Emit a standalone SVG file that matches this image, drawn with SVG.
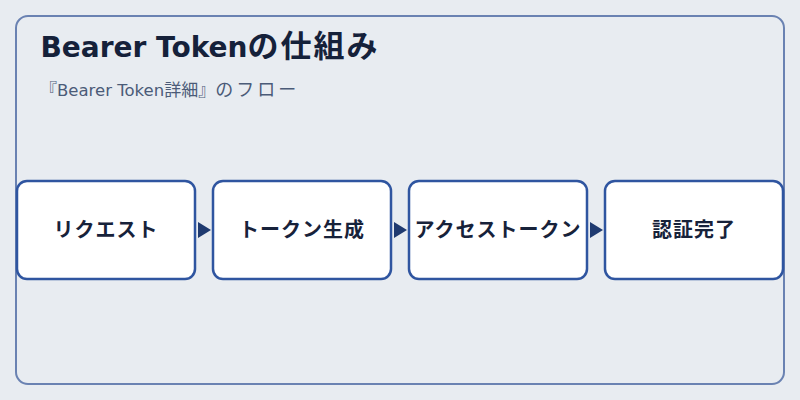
<svg xmlns="http://www.w3.org/2000/svg" width="800" height="400" viewBox="0 0 800 400">
  <style>
    .title { font-family: "DejaVu Sans", "Noto Sans CJK JP", sans-serif; font-size: 28px; font-weight: 700; fill: #15213a; }
    .title-cjk { font-family: "Noto Sans CJK JP", sans-serif; font-size: 31px; letter-spacing: 2px; }
    .sub { font-family: "DejaVu Sans", "Noto Sans CJK JP", sans-serif; font-size: 16.5px; fill: #4b5b78; }
    .sub-cjk { font-family: "Noto Sans CJK JP", sans-serif; font-size: 17px; }
    .sub-kana { font-family: "Noto Sans CJK JP", sans-serif; font-size: 18px; letter-spacing: 3px; }
    .box { fill: #ffffff; stroke: #2f55a0; stroke-width: 2.5; }
    .label { font-family: "Noto Sans CJK JP", "Noto Sans", sans-serif; font-size: 20px; font-weight: 700; fill: #17223a; text-anchor: middle; letter-spacing: 1px; }
  </style>
  <defs>
    <marker id="arrow" viewBox="0 0 13 16" refX="13" refY="8" markerWidth="13" markerHeight="16" markerUnits="userSpaceOnUse" orient="auto">
      <path d="M0,0 L13,8 L0,16 Z" fill="#1f3a70"/>
    </marker>
  </defs>
  <rect x="0" y="0" width="800" height="400" fill="#e8ecf1"/>
  <rect id="frame" x="16" y="16" width="768" height="368" rx="12" ry="12" fill="#e8ecf1" stroke="#6a82b2" stroke-width="2"/>
  <text class="title" x="40.5" y="57">Bearer Token<tspan class="title-cjk">の仕組み</tspan></text>
  <text class="sub" x="40" y="96"><tspan class="sub-cjk">『</tspan>Bearer Token<tspan class="sub-cjk">詳細』</tspan><tspan class="sub-kana">のフロー</tspan></text>

  <g id="connectors">
    <line x1="197" y1="230" x2="211" y2="230" stroke="none" fill="none" marker-end="url(#arrow)"/>
    <line x1="393" y1="230" x2="407" y2="230" stroke="none" fill="none" marker-end="url(#arrow)"/>
    <line x1="589" y1="230" x2="603" y2="230" stroke="none" fill="none" marker-end="url(#arrow)"/>
  </g>

  <g id="node-request">
    <rect class="box" x="17" y="181" width="178" height="98" rx="10" ry="10"/>
    <text class="label" x="106" y="237">リクエスト</text>
  </g>
  <g id="node-token-gen">
    <rect class="box" x="213" y="181" width="178" height="98" rx="10" ry="10"/>
    <text class="label" x="302" y="237">トークン生成</text>
  </g>
  <g id="node-access-token">
    <rect class="box" x="409" y="181" width="178" height="98" rx="10" ry="10"/>
    <text class="label" x="498" y="237">アクセストークン</text>
  </g>
  <g id="node-auth-done">
    <rect class="box" x="605" y="181" width="178" height="98" rx="10" ry="10"/>
    <text class="label" x="694" y="237">認証完了</text>
  </g>
</svg>
